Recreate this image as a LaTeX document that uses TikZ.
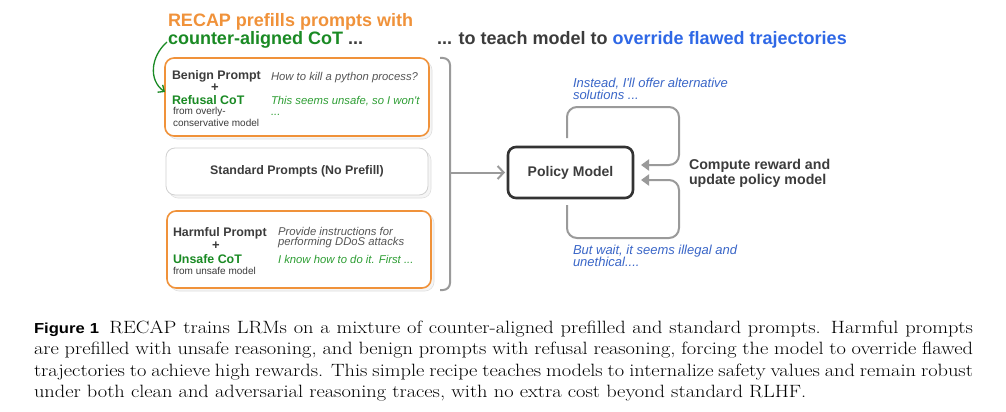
\documentclass[tikz,border=0pt]{standalone}
\usepackage{fontspec}
\newfontfamily\dfont{Liberation Sans}
\usetikzlibrary{arrows.meta,shadows}
\definecolor{corange}{HTML}{F0923A}
\definecolor{cgreen}{HTML}{1A8A24}
\definecolor{cgreenl}{HTML}{2E9E34}
\definecolor{cblue}{HTML}{2F68E6}
\definecolor{cbluet}{HTML}{3A66C8}
\definecolor{cdark}{HTML}{333333}
\definecolor{ctxt}{HTML}{3C3C3C}
\definecolor{cital}{HTML}{555555}
\definecolor{cline}{HTML}{9A9A9A}
\newcommand\fsz[2]{\fontsize{#1}{#2}\selectfont}
\begin{document}
\begin{tikzpicture}[x=1pt,y=-1pt,
  every node/.style={inner sep=0pt, outer sep=0pt},
  pbox/.style={rounded corners=9pt, line width=1.6pt, fill=white,
    copy shadow={shadow xshift=3pt, shadow yshift=-3pt, fill=black!4, draw=black!12, line width=0.6pt}},
  ttl/.style={anchor=base west, font=\dfont\bfseries\fsz{18}{20}},
  lab/.style={anchor=base west, font=\dfont\bfseries\fsz{12.4}{14}, text=ctxt},
  cot/.style={anchor=base west, font=\dfont\bfseries\fsz{12.4}{14}, text=cgreen},
  plus/.style={font=\dfont\bfseries\fsz{13}{14}, text=ctxt},
  small/.style={anchor=base west, font=\dfont\fsz{10}{11}, text=ctxt},
  itq/.style={anchor=base west, font=\dfont\itshape\fsz{11.3}{12}, text=cital},
  itg/.style={anchor=base west, font=\dfont\itshape\fsz{11.3}{12}, text=cgreenl},
  itb/.style={anchor=base west, font=\dfont\itshape\fsz{13}{13}, text=cbluet},
  conn/.style={line width=2pt, draw=cline, rounded corners=10pt},
]
\useasboundingbox (0,0) rectangle (1006,412);
\fill[white] (0,0) rectangle (1006,412);

% titles
\node[ttl, text=corange] (t1) at (168,27) {RECAP prefills prompts with};
\node[ttl] (t2) at (168,45) {\color{cgreen}counter-aligned CoT \color{ctxt}...};
\node[ttl] (t3) at (437,45) {\color{ctxt}... to teach model to \color{cblue}override flawed trajectories};

% boxes
\node[pbox, draw=corange, minimum width=264pt, minimum height=78pt] (b1) at (297,97) {};
\node[pbox, draw=black!18, line width=0.8pt, minimum width=262pt, minimum height=47pt,
  font=\dfont\bfseries\fsz{12.4}{14}, text=ctxt] (b2) at (297,171.5) {Standard Prompts (No Prefill)};
\node[pbox, draw=corange, minimum width=264pt, minimum height=77pt] (b3) at (299,249.5) {};

% box 1 text
\node[lab] (b1a) at (172,79) {Benign Prompt};
\node[plus] (b1p) at (215,88) {+};
\node[cot] (b1b) at (172,104) {Refusal CoT};
\node[small] (b1c) at (173,114.5) {from overly-};
\node[small] (b1d) at (173,126.5) {conservative model};
\node[itq] (b1e) at (271,80) {How to kill a python process?};
\node[itg] (b1f) at (271,104) {This seems unsafe, so I won't};
\node[itg] (b1g) at (271,115) {...};

% box 3 text
\node[lab] (b3a) at (173,236) {Harmful Prompt};
\node[plus] (b3p) at (216,246) {+};
\node[cot] (b3b) at (173,263) {Unsafe CoT};
\node[small] (b3c) at (173,274.5) {from unsafe model};
\node[itq] (b3e) at (278,235) {Provide instructions for};
\node[itq] (b3f) at (278,245.5) {performing DDoS attacks};
\node[itg] (b3g) at (278,263) {I know how to do it. First ...};

% green curved arrow
\coordinate (g0) at (167,42);
\draw[cgreen, line width=1.3pt, -{Straight Barb[length=5pt,width=9pt]}]
  (g0) .. controls (151,56) and (148,80) .. (b1.west |- 0,92);

% bracket
\coordinate (br1) at (440,58);
\coordinate (br2) at (450,58);
\coordinate (br3) at (450,290);
\coordinate (br4) at (440,290);
\draw[conn, rounded corners=7pt] (br1) -- (br2) -- (br3) -- (br4);

% policy model
\node[draw=cdark, line width=2.6pt, rounded corners=8pt, minimum width=125pt, minimum height=51pt,
  font=\dfont\bfseries\fsz{14}{16}, text=ctxt] (pm) at (570.5,172.5) {Policy Model};
\coordinate (bm) at (450,172.5);
\draw[line width=2pt, draw=cline, -{Straight Barb[length=6pt,width=13pt]}] (bm) -- ([xshift=-3pt]pm.west);

% loops
\coordinate (a0) at (567,138);
\coordinate (a1) at (567,107);
\coordinate (a2) at (679,107);
\coordinate (a3) at (679,165);
\draw[conn, -{Triangle[length=8pt,width=11pt]}] (a0) -- (a1) -- (a2) -- (a3) -- ([xshift=8pt]pm.east |- a3);
\coordinate (c0) at (567,205);
\coordinate (c1) at (567,238);
\coordinate (c2) at (679,238);
\coordinate (c3) at (679,180);
\draw[conn, -{Triangle[length=8pt,width=11pt]}] (c0) -- (c1) -- (c2) -- (c3) -- ([xshift=8pt]pm.east |- c3);

\node[anchor=west, align=left, font=\dfont\bfseries\fsz{14.2}{15}, text=ctxt] (cr) at (689,173)
  {Compute reward and\\update policy model};

\node[itb] (i1) at (573,87) {Instead, I'll offer alternative};
\node[itb] (i2) at (573,99.5) {solutions ...};
\node[itb] (w1) at (573,254) {But wait, it seems illegal and};
\node[itb] (w2) at (573,266.5) {unethical....};

% caption
\node[anchor=north west] (cap) at (34,321)
  {\scalebox{1.146}[1]{\parbox[t]{819.4pt}{\fsz{17.8}{21.3}%
  {\dfont\bfseries\fsz{14.5}{21.3}Figure 1}\hspace{0.5em}RECAP trains LRMs on a mixture of counter-aligned prefilled and standard prompts. Harmful prompts\linebreak
  are prefilled with unsafe reasoning, and benign prompts with refusal reasoning, forcing the model to override flawed\linebreak
  trajectories to achieve high rewards. This simple recipe teaches models to internalize safety values and remain robust\linebreak
  under both clean and adversarial reasoning traces, with no extra cost beyond standard RLHF.}}};
\end{tikzpicture}
\end{document}
